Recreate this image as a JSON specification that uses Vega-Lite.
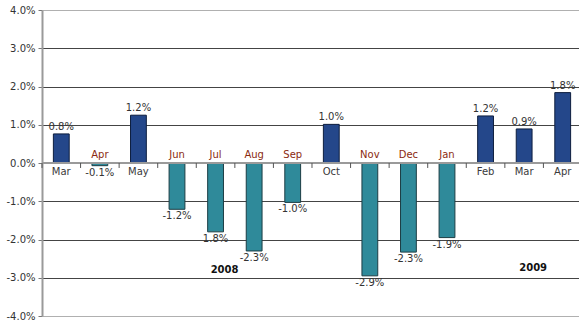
{
  "$schema": "https://vega.github.io/schema/vega-lite/v6.json",
  "width": 540,
  "height": 306,
  "autosize": {"type": "none"},
  "padding": {"left": 42, "top": 10, "right": 0, "bottom": 11},
  "background": "white",
  "config": {"view": {"stroke": null}, "font": "DejaVu Sans"},
  "data": {
    "values": [
      {"id": "2008-03", "month": "Mar", "v": 0.76, "label": "0.8%"},
      {"id": "2008-04", "month": "Apr", "v": -0.07, "label": "-0.1%"},
      {"id": "2008-05", "month": "May", "v": 1.25, "label": "1.2%"},
      {"id": "2008-06", "month": "Jun", "v": -1.21, "label": "-1.2%"},
      {"id": "2008-07", "month": "Jul", "v": -1.8, "label": "1.8%"},
      {"id": "2008-08", "month": "Aug", "v": -2.3, "label": "-2.3%"},
      {"id": "2008-09", "month": "Sep", "v": -1.03, "label": "-1.0%"},
      {"id": "2008-10", "month": "Oct", "v": 1.01, "label": "1.0%"},
      {"id": "2008-11", "month": "Nov", "v": -2.95, "label": "-2.9%"},
      {"id": "2008-12", "month": "Dec", "v": -2.33, "label": "-2.3%"},
      {"id": "2009-01", "month": "Jan", "v": -1.95, "label": "-1.9%"},
      {"id": "2009-02", "month": "Feb", "v": 1.23, "label": "1.2%"},
      {"id": "2009-03", "month": "Mar", "v": 0.89, "label": "0.9%"},
      {"id": "2009-04", "month": "Apr", "v": 1.84, "label": "1.8%"}
    ]
  },
  "encoding": {
    "x": {
      "field": "id",
      "type": "nominal",
      "sort": null,
      "scale": {"paddingInner": 0.59, "paddingOuter": 0.295},
      "axis": null
    },
    "y": {
      "field": "v",
      "type": "quantitative",
      "scale": {"domain": [-4, 4], "nice": false},
      "axis": {
        "title": null,
        "values": [-4, -3, -2, -1, 0, 1, 2, 3, 4],
        "labelExpr": "(datum.value < 0 ? '-' : '') + format(abs(datum.value), '.1f') + '%'",
        "labelFontSize": 10,
        "labelColor": "#333333",
        "labelPadding": 3,
        "tickSize": 4,
        "tickColor": "#777777",
        "domainColor": "#9a9a9a",
        "domainWidth": 2,
        "grid": true,
        "gridColor": {"condition": {"test": "abs(datum.value) == 4", "value": "#b0b0b0"}, "value": "#444444"},
        "gridOpacity": {"condition": {"test": "datum.value == 0", "value": 0}, "value": 1},
        "gridWidth": 1
      }
    }
  },
  "layer": [
    {
      "mark": {"type": "bar", "strokeWidth": 1},
      "encoding": {
        "y2": {"datum": 0},
        "fill": {"condition": {"test": "datum.v > 0", "value": "#24478a"}, "value": "#2f8a9a"},
        "stroke": {"condition": {"test": "datum.v > 0", "value": "#0e1e3e"}, "value": "#1c3d44"}
      }
    },
    {
      "mark": {"type": "rule", "color": "#9a9a9a", "strokeWidth": 2},
      "encoding": {"x": {"value": 0}, "x2": {"value": 540}, "y": {"datum": 0}}
    },
    {
      "mark": {"type": "rule", "color": "#555555", "strokeWidth": 1},
      "encoding": {
        "x": {"field": "id", "type": "nominal", "bandPosition": -0.72},
        "y": {"datum": 0},
        "y2": {"datum": -0.13}
      }
    },
    {
      "transform": [{"filter": "datum.v > 0"}],
      "mark": {"type": "text", "baseline": "bottom", "dy": -2, "fontSize": 10, "color": "#333333"},
      "encoding": {"text": {"field": "label"}}
    },
    {
      "transform": [{"filter": "datum.v < 0"}],
      "mark": {"type": "text", "baseline": "top", "dy": 2, "fontSize": 10, "color": "#333333"},
      "encoding": {"text": {"field": "label"}}
    },
    {
      "transform": [{"filter": "datum.v > 0"}],
      "mark": {"type": "text", "baseline": "top", "dy": 4, "fontSize": 10, "color": "#3a3a3a"},
      "encoding": {"y": {"datum": 0}, "text": {"field": "month"}}
    },
    {
      "transform": [{"filter": "datum.v < 0"}],
      "mark": {"type": "text", "baseline": "bottom", "dy": -3, "fontSize": 10, "color": "#8b2a10"},
      "encoding": {"y": {"datum": 0}, "text": {"field": "month"}}
    },
    {
      "data": {"values": [{"id": "2008-07", "year": "2008", "v": -2.8}, {"id": "2009-03", "year": "2009", "v": -2.74}]},
      "mark": {"type": "text", "fontSize": 10, "fontWeight": "bold", "color": "#111111", "baseline": "middle"},
      "encoding": {
        "x": {"field": "id", "type": "nominal", "bandPosition": 1.07},
        "text": {"field": "year"}
      }
    }
  ]
}
